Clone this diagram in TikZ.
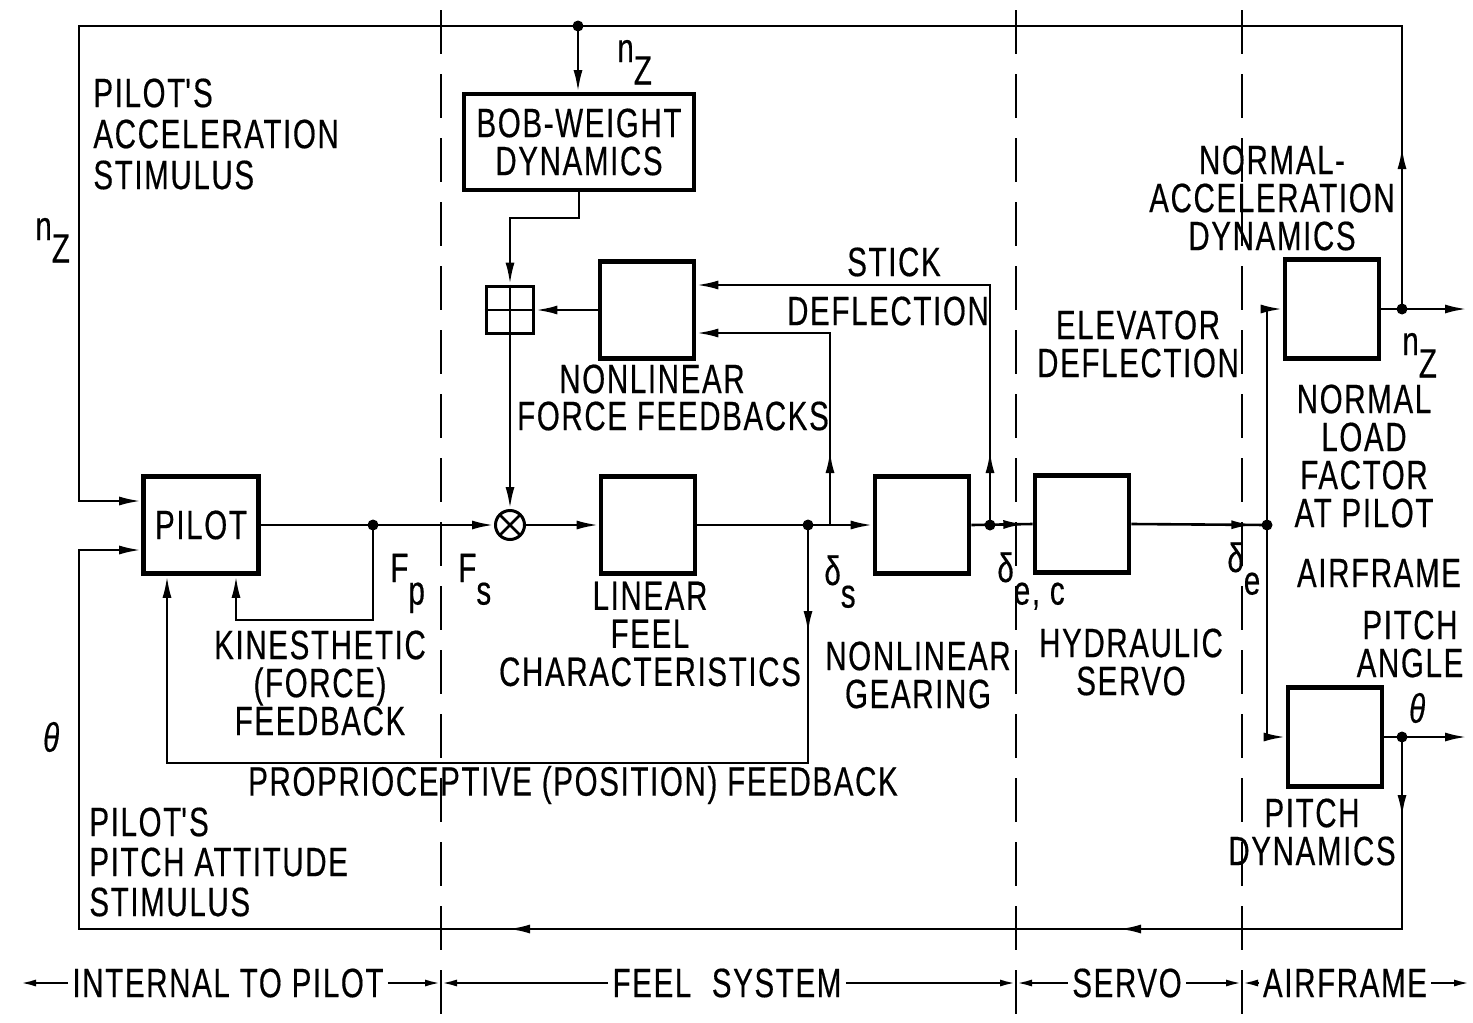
\documentclass[tikz,border=0pt]{standalone}
\usepackage{fontspec}
\setmainfont{Liberation Sans}[FakeStretch=0.72,LetterSpace=4,FakeBold=0.4]
\usetikzlibrary{arrows.meta,decorations.markings}
\newcommand\figfont{\fontsize{20.5}{19}\selectfont}
\newcommand\lowidx[1]{\raisebox{-0.55em}{#1}}

\begin{document}
\begin{tikzpicture}[
 x=0.5pt,y=-0.5pt,
 blk/.style={draw,line width=2.3pt,minimum width=47pt,minimum height=48.5pt,inner sep=0,font=\figfont,align=center},
 sig/.style={line width=1.3pt},
 flow/.style={sig,-{Latex[length=11pt,width=4.5pt]}},
 tipat/.style={postaction={decorate,decoration={markings,mark=at position #1 with {\arrow{Latex[length=11pt,width=4.5pt]}}}}},
 zarrow/.style={line width=1.2pt,-{Latex[length=8pt,width=3.5pt]}},
 zone/.style={line width=1.4pt,dash pattern=on 22pt off 10pt},
 lbl/.style={font=\figfont,align=center,inner sep=0},
 dot/.style={circle,fill,inner sep=0,minimum size=5.5pt}
]
\useasboundingbox (0,0) rectangle (1473,1023);

\foreach \zx/\zn in {441/z1,1016/z2,1242/z3}{
  \coordinate (\zn) at (\zx,983);
  \draw[zone] (\zx,10) -- (\zx,1023);
}

% blocks
\node[blk,minimum width=57.5pt] (pilot) at (201,525) {PILOT};
\node[blk,minimum width=115pt,minimum height=48pt,line width=1.9pt] (bob) at (579,142) {BOB-WEIGHT\\DYNAMICS};
\node[draw,line width=1.9pt,minimum size=23.5pt,inner sep=0] (mult) at (510,310) {};
\node[circle,draw,line width=1.5pt,minimum size=14.5pt,inner sep=0,
  path picture={\draw[sig] (path picture bounding box.north west) -- (path picture bounding box.south east)
  (path picture bounding box.north east) -- (path picture bounding box.south west);}] (sum) at (510,525) {};
\node[blk] (nlff) at (647,310) {};
\node[blk] (lin) at (648,525) {};
\node[blk] (gear) at (922,525) {};
\node[blk] (servo) at (1082,524) {};
\node[blk,minimum height=49.5pt] (accel) at (1332,309) {};
\node[blk,minimum height=49.5pt] (pitch) at (1335,737) {};

% branch points
\coordinate (jtop) at (578,26);
\coordinate (tl) at (79,26);
\coordinate (tr) at (1402,26);
\coordinate (bl) at (79,929);
\coordinate (br) at (1402,929);
\coordinate (bt1) at (1119,929);
\coordinate (bt2) at (508,929);
\coordinate (jFp) at (373,525);
\coordinate (jds) at (808,525);
\coordinate (jup) at (830,525);
\coordinate (jdec) at (990,525);
\coordinate (jde) at (1267,525);
\coordinate (jnz) at (1402,309);
\coordinate (jth) at (1402,737);
\coordinate (nzout) at (1467,309);
\coordinate (thout) at (1467,737);
\coordinate (zl) at (20,983);
\coordinate (zr) at (1470,983);

% signals
\draw[sig] (mult.west) -- (mult.east);
\draw[flow] (jtop) -- (jtop |- bob.north);
\draw[flow] (bob.south) -- ++(0,26) -| (mult.north);
\draw[flow] (mult.north) -- (sum.north);
\draw[flow] (nlff.west) -- (mult.east);
\draw[flow] (pilot.east) -- (sum.west);
\draw[flow] (sum.east) -- (lin.west);
\draw[flow] (lin.east) -- (gear.west);
\draw[sig,tipat=27pt] (gear.east) -- (servo.west);
\draw[sig,tipat=61pt] (servo.east) -- (jde);
\draw[flow,tipat=37pt] (jup) |- ([yshift=-11.5pt]nlff.east);
\draw[flow,tipat=37pt] (jdec) |- ([yshift=12.5pt]nlff.east);
\draw[flow] (jFp) -- ++(0,95) -| ([xshift=17.5pt]pilot.south);
\draw[flow,tipat=54pt] (jds) -- ++(0,238) -| ([xshift=-17pt]pilot.south);
\draw[flow] (jde) |- (accel.west);
\draw[flow] (jde) |- (pitch.west);
\draw[flow] (accel.east) -- (nzout);
\draw[flow] (pitch.east) -- (thout);
\draw[flow,tipat=81pt] (jnz) -- (tr) -- (tl) |- ([yshift=12pt]pilot.west);
\draw[flow,tipat=40pt] (jth) -- (br) -- (bl) |- ([yshift=-12.5pt]pilot.west);
\draw[flow] (br) -- (bt1);
\draw[flow] (bt1) -- (bt2);
\foreach \j in {jtop,jFp,jds,jdec,jde,jnz,jth} \node[dot] at (\j) {};

% labels
\node[lbl,anchor=west,align=left,font={\fontsize{20.5}{20.5}\selectfont}] (accstim) at (93,134) {PILOT\textquotesingle S\\ACCELERATION\\STIMULUS};
\node[lbl,anchor=west,align=left,font={\fontsize{20.5}{20}\selectfont}] (pitchstim) at (89,862) {PILOT\textquotesingle S\\PITCH ATTITUDE\\STIMULUS};
\node[lbl,anchor=base west] (nzin) at (35,240) {n\lowidx{Z}};
\node[lbl] (thin) at (52,737) {\textit{θ}};
\node[lbl,anchor=base west] (nzbob) at (617,62) {n\lowidx{Z}};
\node[lbl] (stick) at (894,262) {STICK};
\node[lbl] (defl) at (888,311) {DEFLECTION};
\node[lbl] (nonlin) at (652,379) {NONLINEAR};
\node[lbl] (ffb) at (673,416) {FORCE FEEDBACKS};
\node[lbl,anchor=base west] (fp) at (390,582) {F\lowidx{p}};
\node[lbl,anchor=base west] (fs) at (458,582) {F\lowidx{s}};
\node[lbl] (kin) at (320,683) {KINESTHETIC\\(FORCE)\\FEEDBACK};
\node[lbl] (linlbl) at (650,634) {LINEAR\\FEEL\\CHARACTERISTICS};
\node[lbl,anchor=base west] (ds) at (824,585) {δ\lowidx{s}};
\node[lbl] (gearlbl) at (918,675) {NONLINEAR\\GEARING};
\node[lbl,anchor=base west] (dec) at (997,582) {δ\lowidx{e, c}};
\node[lbl] (servolbl) at (1131,662) {HYDRAULIC\\SERVO};
\node[lbl] (elev) at (1138,344) {ELEVATOR\\DEFLECTION};
\node[lbl,anchor=base west] (de) at (1227,572) {δ\lowidx{e}};
\node[lbl] (acclbl) at (1272,198) {NORMAL-\\ACCELERATION\\DYNAMICS};
\node[lbl,anchor=base west] (nzlbl) at (1402,355) {n\lowidx{Z}};
\node[lbl] (load) at (1364,456) {NORMAL\\LOAD\\FACTOR\\AT PILOT};
\node[lbl] (air) at (1379,573) {AIRFRAME};
\node[lbl] (angle) at (1410,644) {PITCH\\ANGLE};
\node[lbl] (thlbl) at (1418,708) {\textit{θ}};
\node[lbl] (pitchlbl) at (1312,832) {PITCH\\DYNAMICS};
\node[lbl] (prop) at (573,785) {PROPRIOCEPTIVE (POSITION) FEEDBACK};

% zones
\node[lbl,inner xsep=2pt] (zint) at (228,983) {INTERNAL TO PILOT};
\node[lbl,inner xsep=2pt] (zfeel) at (727,983) {FEEL\enspace SYSTEM};
\node[lbl,inner xsep=2pt] (zservo) at (1127,983) {SERVO};
\node[lbl,inner xsep=2pt] (zair) at (1345,983) {AIRFRAME};
\draw[zarrow] (zint.west) -- (zl);
\draw[zarrow] (zint.east) -- (z1);
\draw[zarrow] (zfeel.west) -- (z1);
\draw[zarrow] (zfeel.east) -- (z2);
\draw[zarrow] (zservo.west) -- (z2);
\draw[zarrow] (zservo.east) -- (z3);
\draw[zarrow] (zair.west) -- (z3);
\draw[zarrow] (zair.east) -- (zr);
\end{tikzpicture}
\end{document}
